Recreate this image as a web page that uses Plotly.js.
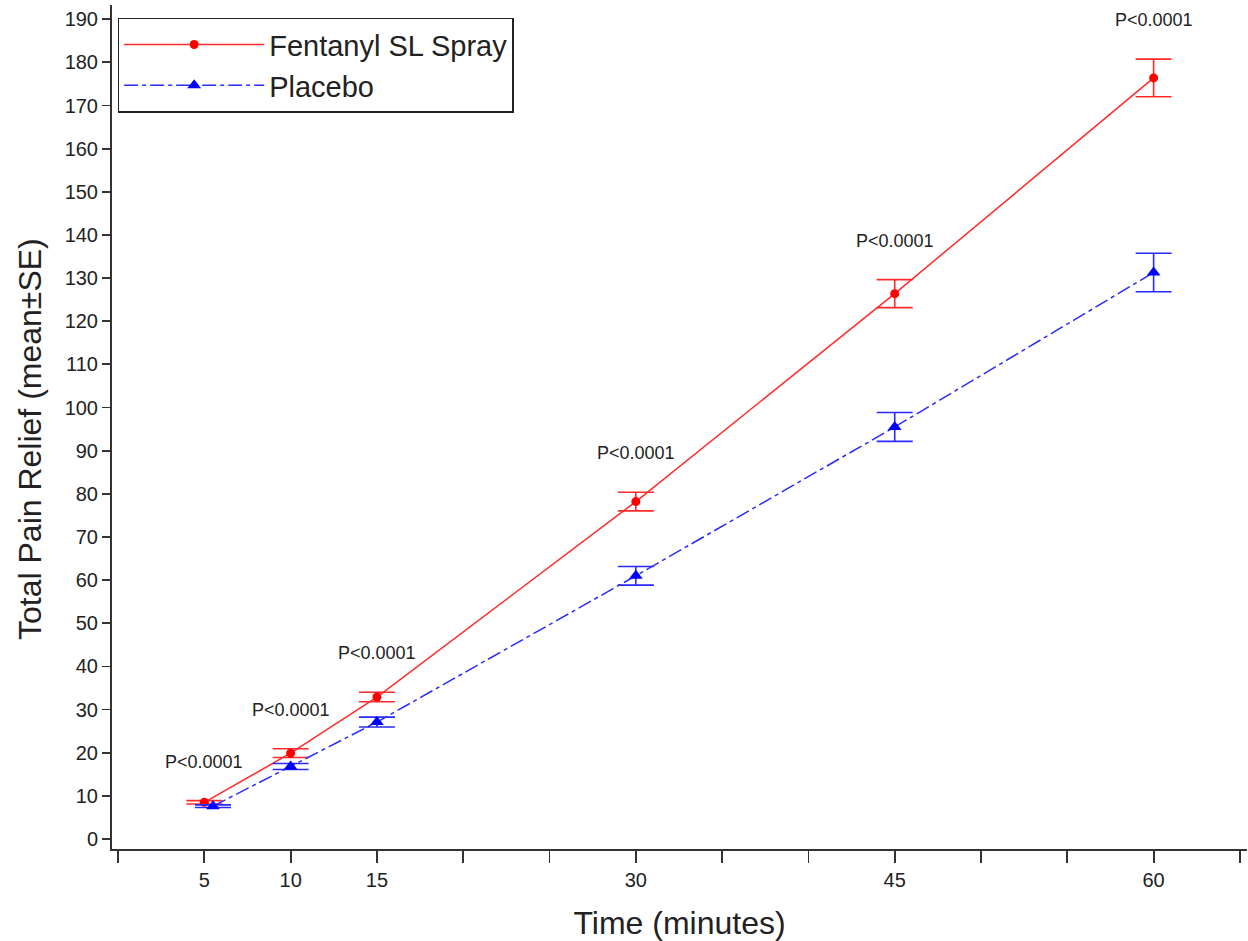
<!DOCTYPE html>
<html>
<head>
<meta charset="utf-8">
<script src="https://cdn.plot.ly/plotly-3.0.1.min.js"></script>
<style>
  html, body { margin: 0; padding: 0; background: #fff; }
  #chart { width: 1248px; height: 941px; }
</style>
</head>
<body>
<div id="chart"></div>
<script>
// ---- data ----
const timeFentanyl = [5, 10, 15, 30, 45, 60];
const timePlacebo  = [5.5, 10, 15, 30, 45, 60];
const fentanylMean = [8.5, 19.9, 32.9, 78.2, 126.4, 176.4];
const fentanylSE   = [0.4, 1.0, 1.1, 2.15, 3.25, 4.35];
const placeboMean  = [7.6, 16.8, 27.1, 61.0, 95.5, 131.3];
const placeboSE    = [0.3, 0.7, 1.15, 2.15, 3.35, 4.45];
const pValues      = ["P<0.0001", "P<0.0001", "P<0.0001", "P<0.0001", "P<0.0001", "P<0.0001"];
const xTickVals    = [0, 5, 10, 15, 20, 25, 30, 35, 40, 45, 50, 55, 60, 65];
const xTickText    = ["", "5", "10", "15", "", "", "30", "", "", "45", "", "", "60", ""];
const yTickVals    = [0,10,20,30,40,50,60,70,80,90,100,110,120,130,140,150,160,170,180,190];
const yTitle       = "Total Pain Relief (mean±SE)";
const xTitle       = "Time (minutes)";

const FONT = "Liberation Sans, Arial, sans-serif";
const TXT = "#222";
const RED = "#ff2a2a";
const BLUE = "#2a2aff";

const traces = [
  {
    type: "scatter", mode: "lines+markers", name: "Fentanyl SL Spray",
    x: timeFentanyl, y: fentanylMean,
    line: { color: RED, width: 1.5, dash: "solid" },
    marker: { color: "#ff0000", symbol: "circle", size: 9 },
    error_y: { type: "data", array: fentanylSE, visible: true, color: RED, thickness: 1.6, width: 18 }
  },
  {
    type: "scatter", mode: "lines+markers", name: "Placebo",
    x: timePlacebo, y: placeboMean,
    line: { color: BLUE, width: 1.5, dash: "14px,4px,4px,4px" },
    marker: { color: "#0000ff", symbol: "triangle-up", size: 12 },
    error_y: { type: "data", array: placeboSE, visible: true, color: BLUE, thickness: 1.6, width: 18 }
  }
];

const annotations = timeFentanyl.map((t, i) => ({
  x: t, y: fentanylMean[i] + fentanylSE[i], xref: "x", yref: "y",
  text: pValues[i], showarrow: false, yanchor: "middle", xanchor: "center",
  yshift: 39, font: { family: FONT, size: 18, color: TXT }
}));
// y-axis title placed as rotated text to match the reference position
annotations.push({
  xref: "paper", yref: "paper", x: 0, y: 0.4858, xshift: -82,
  xanchor: "center", yanchor: "middle", textangle: -90, showarrow: false,
  text: yTitle, font: { family: FONT, size: 32, color: TXT }
});

const layout = {
  width: 1248, height: 941,
  margin: { l: 112, r: 1, t: 5, b: 92 },
  paper_bgcolor: "#fff", plot_bgcolor: "#fff",
  font: { family: FONT, color: TXT },
  showlegend: true,
  legend: {
    x: 0.005, y: 0.985, xanchor: "left", yanchor: "top",
    bgcolor: "#fff", bordercolor: "#222", borderwidth: 1.5,
    font: { family: FONT, size: 29, color: TXT },
    itemwidth: 140, tracegroupgap: 0, entrywidth: 420
  },
  xaxis: {
    range: [-0.35, 65.41], showgrid: false, zeroline: false,
    showline: true, linecolor: "#333", linewidth: 2,
    ticks: "outside", ticklen: 12, tickwidth: 1.8, tickcolor: "#333",
    tickmode: "array", tickvals: xTickVals, ticktext: xTickText,
    tickfont: { family: FONT, size: 20, color: TXT },
    title: { text: xTitle, font: { family: FONT, size: 32, color: TXT }, standoff: 28 }
  },
  yaxis: {
    range: [-2.32, 193.3], showgrid: false, zeroline: false,
    showline: true, linecolor: "#333", linewidth: 2,
    ticks: "outside", ticklen: 8, tickwidth: 1.8, tickcolor: "#333",
    tickmode: "array", tickvals: yTickVals,
    tickfont: { family: FONT, size: 20, color: TXT }
  },
  annotations: annotations
};

Plotly.newPlot("chart", traces, layout, { displayModeBar: false, staticPlot: true });
</script>
</body>
</html>
